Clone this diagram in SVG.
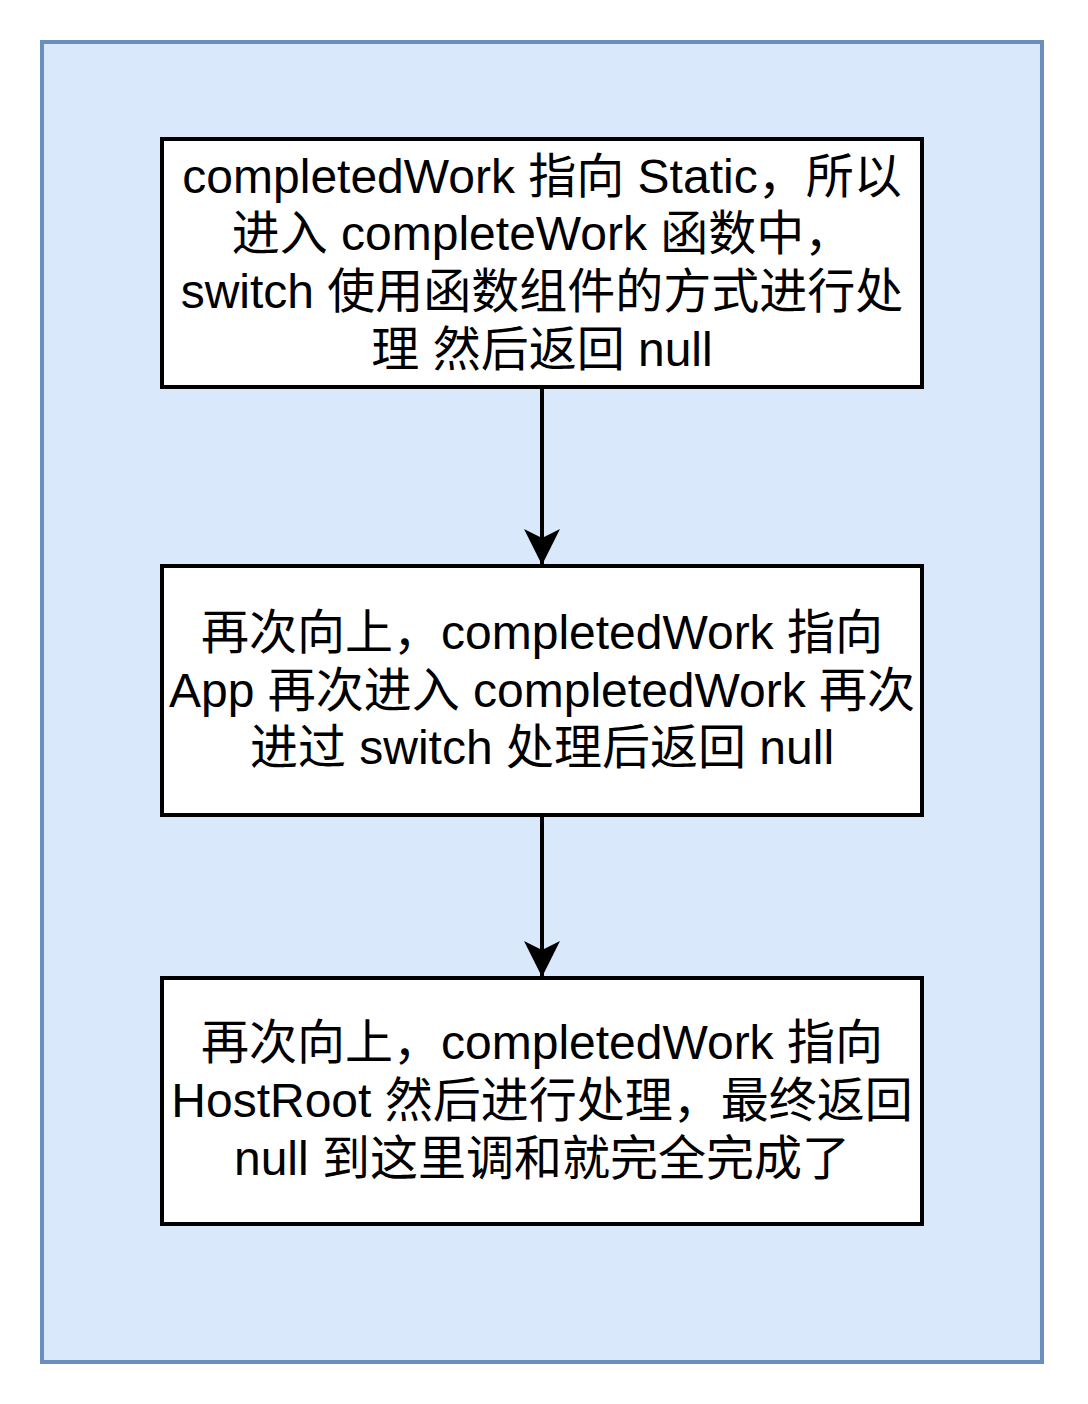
<svg xmlns="http://www.w3.org/2000/svg" width="1088" height="1404" viewBox="0 0 1088 1404">
<style>
.node{fill:#ffffff;stroke:#000000;stroke-width:4}
.t{font-family:"Liberation Sans","Noto Sans CJK SC",sans-serif;font-size:48px;fill:#000000;text-anchor:middle}
.edge{stroke:#000000;stroke-width:4;fill:none}
</style>
<defs>
<marker id="arr" markerUnits="userSpaceOnUse" markerWidth="40" markerHeight="40" viewBox="0 0 40 40" refX="36" refY="18" orient="auto">
<path d="M36,18 L0,0 L9,18 L0,36 Z" fill="#000000"/>
</marker>
</defs>
<rect x="42" y="42" width="1000" height="1320" fill="#dae8fc" stroke="#6c8ebf" stroke-width="4"/>
<g id="connectors">
<path class="edge" d="M542,387 L542,565" marker-end="url(#arr)"/>
<path class="edge" d="M542,815 L542,977" marker-end="url(#arr)"/>
</g>
<g id="node1">
<rect class="node" x="162" y="139" width="760" height="248"/>
<text class="t" x="542" y="193">completedWork 指向 Static，所以</text>
<text class="t" x="542" y="250">进入 completeWork 函数中，</text>
<text class="t" x="542" y="308">switch 使用函数组件的方式进行处</text>
<text class="t" x="542" y="366">理 然后返回 null</text>
</g>
<g id="node2">
<rect class="node" x="162" y="566" width="760" height="249"/>
<text class="t" x="542" y="649">再次向上，completedWork 指向</text>
<text class="t" x="542" y="707">App 再次进入 completedWork 再次</text>
<text class="t" x="542" y="764">进过 switch 处理后返回 null</text>
</g>
<g id="node3">
<rect class="node" x="162" y="978" width="760" height="246"/>
<text class="t" x="542" y="1059">再次向上，completedWork 指向</text>
<text class="t" x="542" y="1117">HostRoot 然后进行处理，最终返回</text>
<text class="t" x="542" y="1175">null 到这里调和就完全完成了</text>
</g>
</svg>
